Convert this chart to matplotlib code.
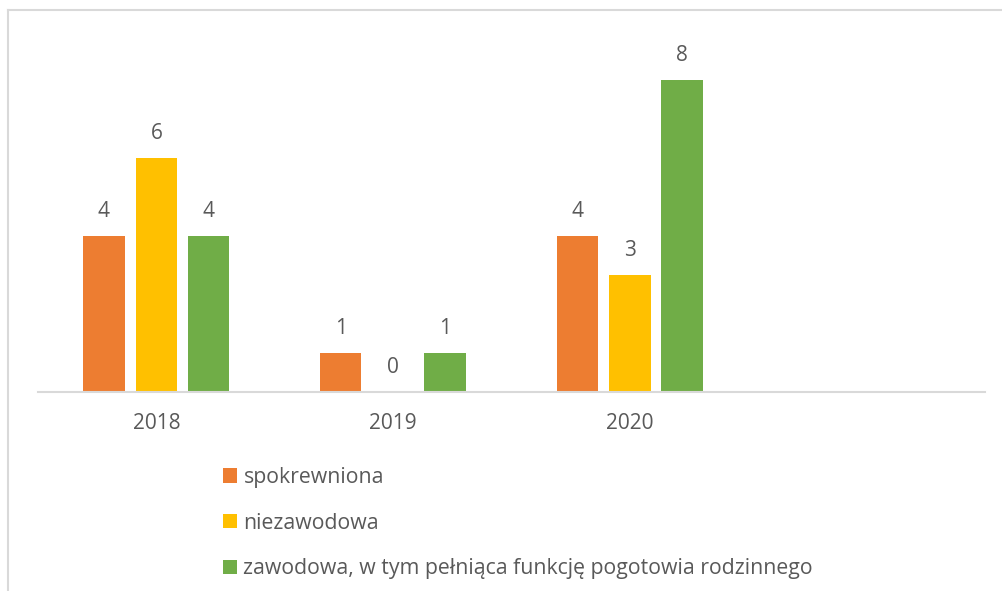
import numpy as np
import matplotlib
matplotlib.use('Agg')
import matplotlib.pyplot as plt
from matplotlib.patches import Patch
from matplotlib.lines import Line2D

plt.rcParams['font.family'] = ['Open Sans', 'DejaVu Sans']

# Data
years = ['2018', '2019', '2020', '']
series_names = ['spokrewniona', 'niezawodowa',
                'zawodowa, w tym pełniąca funkcję pogotowia rodzinnego']
spokrewniona = [4, 1, 4]
niezawodowa = [6, 0, 3]
zawodowa = [4, 1, 8]
colors = ['#ED7D31', '#FFC000', '#70AD47']

text_color = '#595959'

fig = plt.figure(figsize=(10.03, 5.91), dpi=100)
ax = fig.add_axes([38/1003, 1 - 392/591, (985 - 38)/1003, 351/591])

x = np.arange(3)
width = 0.175
offsets = [-0.222, 0.0, 0.22]
values = [spokrewniona, niezawodowa, zawodowa]

for vals, off, col in zip(values, offsets, colors):
    bars = ax.bar(x + off, vals, width, color=col, zorder=2)
    for b, v in zip(bars, vals):
        ax.annotate(str(v), (b.get_x() + b.get_width()/2, v),
                    xytext=(0, 10), textcoords='offset points',
                    ha='center', va='bottom', fontsize=15, color=text_color)

ax.set_xlim(-0.5, 3.5)
ax.set_ylim(0, 9)
ax.set_xticks(np.arange(4))
ax.set_xticklabels(years, fontsize=15, color=text_color)
ax.tick_params(axis='x', length=0, pad=15)
ax.set_yticks([])
for s in ['top', 'right', 'left']:
    ax.spines[s].set_visible(False)
ax.spines['bottom'].set_color('#d9d9d9')
ax.spines['bottom'].set_linewidth(1.5)

# outer chart border (cropped at right and bottom)
fig.add_artist(Line2D([8/1003, 1], [1 - 10/591, 1 - 10/591],
                      transform=fig.transFigure, color='#d9d9d9', lw=1.5))
fig.add_artist(Line2D([8/1003, 8/1003], [0, 1 - 10/591],
                      transform=fig.transFigure, color='#d9d9d9', lw=1.5))

handles = [Patch(facecolor=c, edgecolor='none') for c in colors]
leg = fig.legend(handles, series_names, loc='upper left',
                 bbox_to_anchor=(223/1003, 1 - 467/591),
                 frameon=False, fontsize=15.3, handlelength=0.66,
                 handleheight=0.66, handletextpad=0.3, labelspacing=1.16,
                 borderaxespad=0, borderpad=0)
for t in leg.get_texts():
    t.set_color(text_color)

fig.savefig('out.png', dpi=100)
